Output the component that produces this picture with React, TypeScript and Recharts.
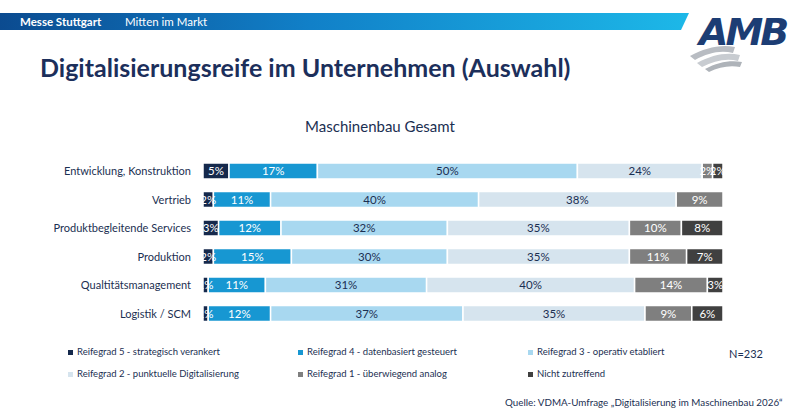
import React from "react";
import { BarChart, Bar, XAxis, YAxis, LabelList } from "recharts";

const categories = [
  "Entwicklung, Konstruktion",
  "Vertrieb",
  "Produktbegleitende Services",
  "Produktion",
  "Qualtitätsmanagement",
  "Logistik / SCM",
];
const reifegrad5 = [5, 2, 3, 2, 1, 1];
const reifegrad4 = [17, 11, 12, 15, 11, 12];
const reifegrad3 = [50, 40, 32, 30, 31, 37];
const reifegrad2 = [24, 38, 35, 35, 40, 35];
const reifegrad1 = [2, 9, 10, 11, 14, 9];
const nichtZutreffend = [2, 0, 8, 7, 3, 6];

const series = [
  { key: "r5", name: "Reifegrad 5 - strategisch verankert", values: reifegrad5, color: "#15294c", text: "#ffffff" },
  { key: "r4", name: "Reifegrad 4 - datenbasiert gesteuert", values: reifegrad4, color: "#1797d2", text: "#ffffff" },
  { key: "r3", name: "Reifegrad 3 - operativ etabliert", values: reifegrad3, color: "#a8d8f0", text: "#1b2f52" },
  { key: "r2", name: "Reifegrad 2 - punktuelle Digitalisierung", values: reifegrad2, color: "#d6e4ee", text: "#1b2f52" },
  { key: "r1", name: "Reifegrad 1 - überwiegend analog", values: reifegrad1, color: "#7f7f7f", text: "#ffffff" },
  { key: "nz", name: "Nicht zutreffend", values: nichtZutreffend, color: "#404040", text: "#ffffff" },
];

const data = categories.map((cat, i) => {
  const row: Record<string, string | number> = { cat };
  series.forEach((s) => (row[s.key] = s.values[i]));
  return row;
});

const FONT = "Lato, 'Open Sans', sans-serif";
const NAVY = "#1b2f52";

// legend drawn by hand so it doesn't eat into the plot height
function LegendBox() {
  const cols = [68, 298, 528];
  return (
    <div style={{ position: "absolute", left: 0, top: 346 }}>
      {series.map((s, i) => (
        <div
          key={s.key}
          style={{
            position: "absolute",
            left: cols[i % 3],
            top: Math.floor(i / 3) * 22,
            display: "flex",
            alignItems: "center",
            fontFamily: FONT,
            fontSize: 9.5,
            lineHeight: "12px",
            color: NAVY,
            whiteSpace: "nowrap",
          }}
        >
          <span style={{ display: "inline-block", width: 5, height: 5, background: s.color, marginRight: 4 }} />
          {s.name}
        </div>
      ))}
    </div>
  );
}

export default function App() {
  return (
    <div style={{ position: "absolute", left: 0, top: 0, width: 800, height: 419, background: "#fff", fontFamily: FONT }}>
      <svg width={800} height={419} style={{ position: "absolute", left: 0, top: 0 }}>
        <defs>
          <linearGradient id="hdr" x1="0" x2="1" y1="0" y2="0">
            <stop offset="0" stopColor="#0b4b90" />
            <stop offset="0.45" stopColor="#1180c8" />
            <stop offset="1" stopColor="#1db8e8" />
          </linearGradient>
        </defs>
        <polygon points="0,13 689,13 681,30 0,30" fill="url(#hdr)" />
        <text x={20} y={26} fill="#fff" fontSize={11.5} fontWeight={700} fontFamily={FONT}>Messe Stuttgart</text>
        <text x={125} y={26} fill="#fff" fontSize={11.5} fontFamily={FONT}>Mitten im Markt</text>
        <text x={699} y={45} fill="#1c3d74" fontSize={38} fontWeight={900} fontStyle="italic" fontFamily="'DejaVu Sans', sans-serif" letterSpacing={-3}>AMB</text>
        <path d="M690,56 C705,48 720,44 735,47 L733,53 C720,50 708,53 695,60 Z" fill="#b8bcc2" />
        <path d="M697,63 C712,55 726,52 740,55 L738,61 C726,58 714,61 702,67 Z" fill="#c8ccd1" />
        <path d="M705,69 C718,62 730,60 742,62 L740,67 C730,65 719,67 709,72 Z" fill="#aeb3b9" />
        <text x={40} y={77} fill="#1c2f5b" fontSize={25} fontWeight={700} fontFamily={FONT}>Digitalisierungsreife im Unternehmen (Auswahl)</text>
        <text x={380} y={132} fill={NAVY} fontSize={15} textAnchor="middle" fontFamily={FONT}>Maschinenbau Gesamt</text>
        <text x={729} y={358} fill={NAVY} fontSize={11} fontFamily={FONT}>N=232</text>
        <text x={505} y={406} fill={NAVY} fontSize={9.8} fontFamily={FONT}>Quelle: VDMA-Umfrage „Digitalisierung im Maschinenbau 2026“</text>
      </svg>
      <div style={{ position: "absolute", left: 0, top: 0 }}>
        <BarChart
          width={800}
          height={419}
          data={data}
          layout="vertical"
          margin={{ top: 157, right: 77, bottom: 91, left: 3 }}
          barSize={16}
        >
          <XAxis type="number" domain={[0, 100]} hide />
          <YAxis
            type="category"
            dataKey="cat"
            width={200}
            axisLine={false}
            tickLine={false}
            tickMargin={6}
            tick={{ fill: NAVY, fontSize: 11, fontFamily: FONT }}
          />
          {series.map((s) => (
            <Bar
              key={s.key}
              dataKey={s.key}
              name={s.name}
              stackId="a"
              fill={s.color}
              stroke="#ffffff"
              strokeWidth={1.5}
              isAnimationActive={false}
            >
              <LabelList
                dataKey={s.key}
                position="center"
                formatter={(v: any) => (v ? `${v}%` : "")}
                style={{ fill: s.text, fontSize: 11.5, fontFamily: FONT }}
              />
            </Bar>
          ))}
        </BarChart>
      </div>
      <LegendBox />
    </div>
  );
}
